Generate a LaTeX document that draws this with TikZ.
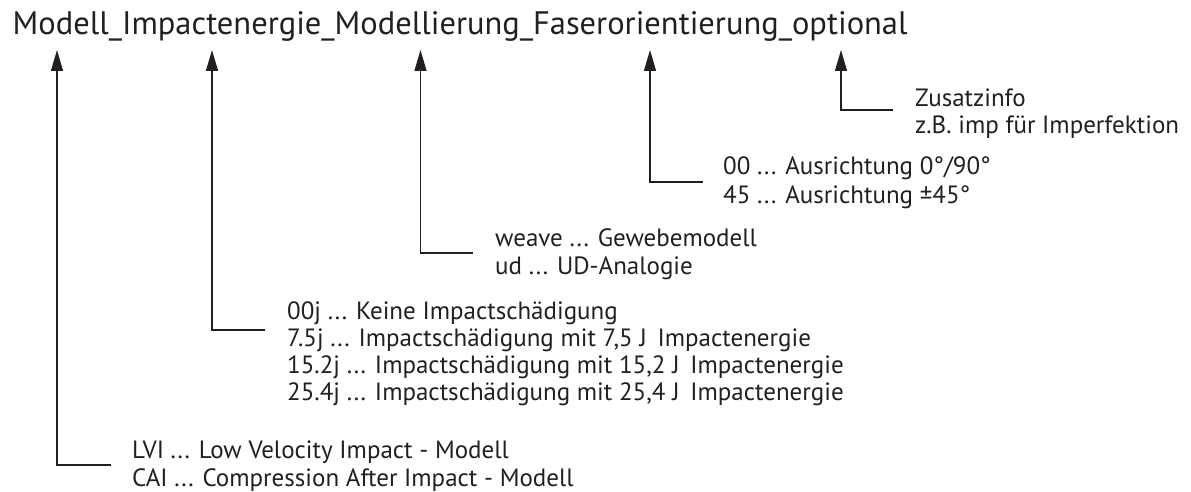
\documentclass[tikz,border=0pt]{standalone}
\usepackage{fontspec}
\setmainfont{PT Sans}
\usetikzlibrary{arrows.meta}
\definecolor{ink}{HTML}{231F20}
\begin{document}
\begin{tikzpicture}[x=1pt,y=-1pt,
  title/.style={anchor=base west,inner sep=0pt,font=\fontsize{32.5}{36}\selectfont,text=ink},
  lbl/.style={anchor=base west,inner sep=0pt,font=\fontsize{25}{27}\selectfont,text=ink},
  conn/.style={draw=ink,line width=1.4pt,-{Triangle[length=21pt,width=12pt]}}]
\useasboundingbox (0,0) rectangle (1191,492);
\node[title] (T) at (12.5,35) {Modell\_Impactenergie\_Modellierung\_Faserorientierung\_optional};
% arrow tips under the title
\coordinate (t1) at (57,50);
\coordinate (t2) at (212,50);
\coordinate (t3) at (420.5,50);
\coordinate (t4) at (650,50);
\coordinate (t5) at (841,50);
% label blocks
\node[lbl] (a1) at (132,458) {LVI ... Low Velocity Impact - Modell};
\node[lbl] (a2) at (132,486) {CAI ... Compression After Impact - Modell};
\node[lbl] (b1) at (287,319) {00j ... Keine Impactschädigung};
\node[lbl] (b2) at (287,346) {7.5j ... Impactschädigung mit 7,5 J\, Impactenergie};
\node[lbl] (b3) at (287,373) {15.2j ... Impactschädigung mit 15,2 J\, Impactenergie};
\node[lbl] (b4) at (287,400) {25.4j ... Impactschädigung mit 25,4 J\, Impactenergie};
\node[lbl] (c1) at (495,246) {weave ... Gewebemodell};
\node[lbl] (c2) at (495,274) {ud ... UD-Analogie};
\node[lbl] (d1) at (723,174) {00 ... Ausrichtung 0°/90°};
\node[lbl] (d2) at (723,203) {45 ... Ausrichtung ±45°};
\node[lbl] (e1) at (915,107) {Zusatzinfo};
\node[lbl] (e2) at (915,134) {z.B. imp für Imperfektion};
% free ends of the elbow connectors
\coordinate (s1) at (111,465);
\coordinate (s2) at (265,330);
\coordinate (s3) at (473,253);
\coordinate (s4) at (703,182);
\coordinate (s5) at (893,110);
\draw[conn] (s1) -| (t1);
\draw[conn] (s2) -| (t2);
\draw[conn] (s3) -| (t3);
\draw[conn] (s4) -| (t4);
\draw[conn] (s5) -| (t5);
\end{tikzpicture}
\end{document}
